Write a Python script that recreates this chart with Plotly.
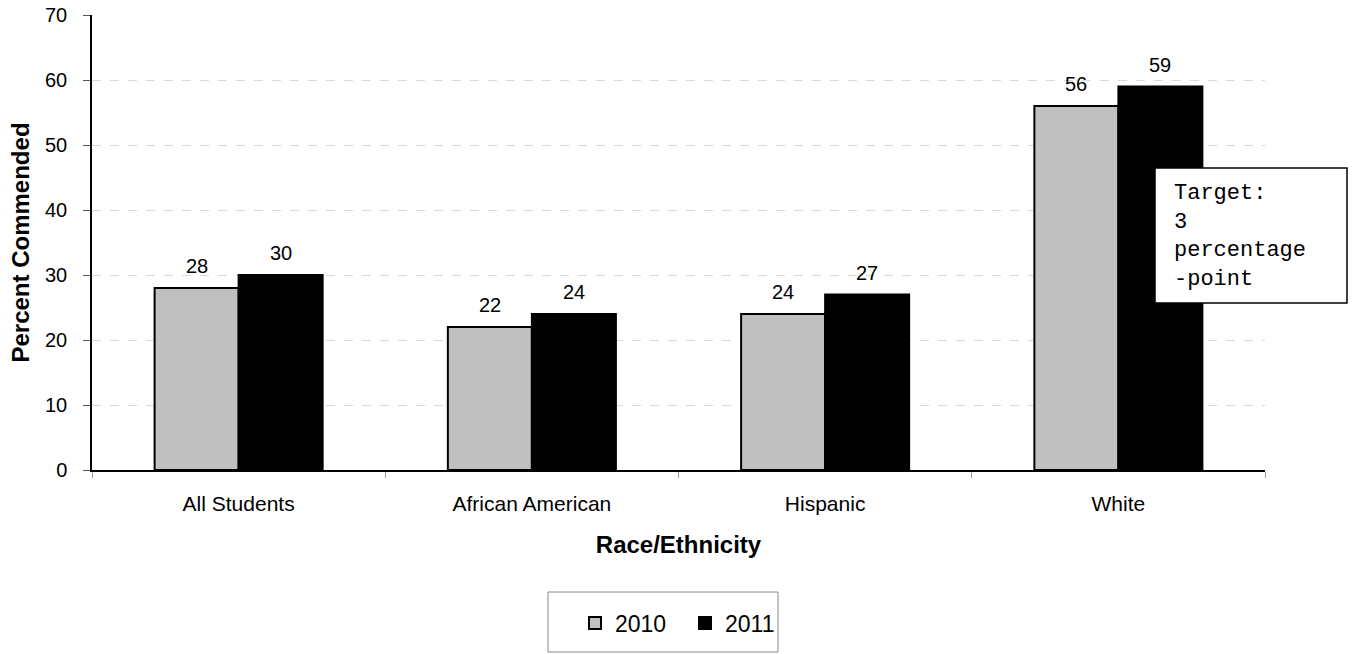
import plotly.graph_objects as go

categories = ["All Students", "African American", "Hispanic", "White"]
values_2010 = [28, 22, 24, 56]
values_2011 = [30, 24, 27, 59]
series_names = ["2010", "2011"]
y_ticks = [0, 10, 20, 30, 40, 50, 60, 70]
annotation_text = "Target:<br>3<br>percentage<br>-point"

FONT = "Arial, Liberation Sans, sans-serif"
MONO = "Courier New, Liberation Mono, monospace"

L, R, T, B = 92, 90, 15, 184
W, H = 1355, 654
pw, ph = W - L - R, H - T - B


def px_x(x):
    return (x - L) / pw


def px_y(y):
    return (H - B - y) / ph


fig = go.Figure()
fig.add_trace(go.Bar(
    name=series_names[0], x=categories, y=values_2010,
    marker=dict(color="#C0C0C0", line=dict(color="#000000", width=2)),
))
fig.add_trace(go.Bar(
    name=series_names[1], x=categories, y=values_2011,
    marker=dict(color="#000000", line=dict(color="#000000", width=2)),
))

# value labels above bars (positioned by data values)
BAR_HALF = 42
for vals, shift in ((values_2010, -BAR_HALF), (values_2011, BAR_HALF)):
    for c, v in zip(categories, vals):
        fig.add_annotation(x=c, y=v, xref="x", yref="y", text=str(v),
                           showarrow=False, xshift=shift, yshift=22,
                           yanchor="middle",
                           font=dict(family=FONT, size=20, color="#000000"))

fig.update_layout(
    width=W, height=H,
    margin=dict(l=L, r=R, t=T, b=B, autoexpand=False),
    paper_bgcolor="white", plot_bgcolor="white",
    barmode="group", bargap=0.427, bargroupgap=0,
    font=dict(family=FONT, size=20, color="#000000"),
    showlegend=True,
    legend=dict(
        orientation="h", x=px_x(575), xanchor="left",
        y=px_y(623), yanchor="middle",
        font=dict(family=FONT, size=23, color="#000000"),
        bgcolor="rgba(0,0,0,0)", borderwidth=0,
        itemwidth=30, entrywidth=65, traceorder="normal",
    ),
    xaxis=dict(
        automargin=False,
        showline=True, linecolor="#000000", linewidth=1.5,
        ticks="outside", tickson="boundaries", ticklen=6, tickcolor="#999999",
        tickfont=dict(family=FONT, size=21), ticklabelstandoff=14,
        title=dict(text="<b>Race/Ethnicity</b>", font=dict(family=FONT, size=24), standoff=22),
        showgrid=False,
    ),
    yaxis=dict(
        automargin=False,
        range=[0, 70], tickvals=y_ticks, showline=True, linecolor="#000000", linewidth=1.5,
        ticks="outside", ticklen=7, tickcolor="#555555",
        tickfont=dict(family=FONT, size=20), ticklabelstandoff=12,
        showgrid=True, gridcolor="#D9D9D9", griddash="dash", gridwidth=1,
        zeroline=False,
        title=dict(text="<b>Percent Commended</b>", font=dict(family=FONT, size=24), standoff=9),
    ),
)

# Annotation box
fig.add_shape(type="rect", xref="paper", yref="paper",
              x0=px_x(1155), x1=px_x(1347), y0=px_y(303), y1=px_y(168),
              line=dict(color="#000000", width=1.5), fillcolor="white", layer="above")
fig.add_annotation(xref="paper", yref="paper", x=px_x(1172), y=px_y(236),
                   xanchor="left", yanchor="middle", align="left", showarrow=False,
                   text=annotation_text,
                   font=dict(family=MONO, size=22, color="#000000"))

# Legend box
fig.add_shape(type="rect", xref="paper", yref="paper",
              x0=px_x(548), x1=px_x(778), y0=px_y(652), y1=px_y(592),
              line=dict(color="#888888", width=1), fillcolor="rgba(0,0,0,0)")

fig.write_html("out.html", config={"displayModeBar": False},
               post_script="document.body.style.margin='0';")
